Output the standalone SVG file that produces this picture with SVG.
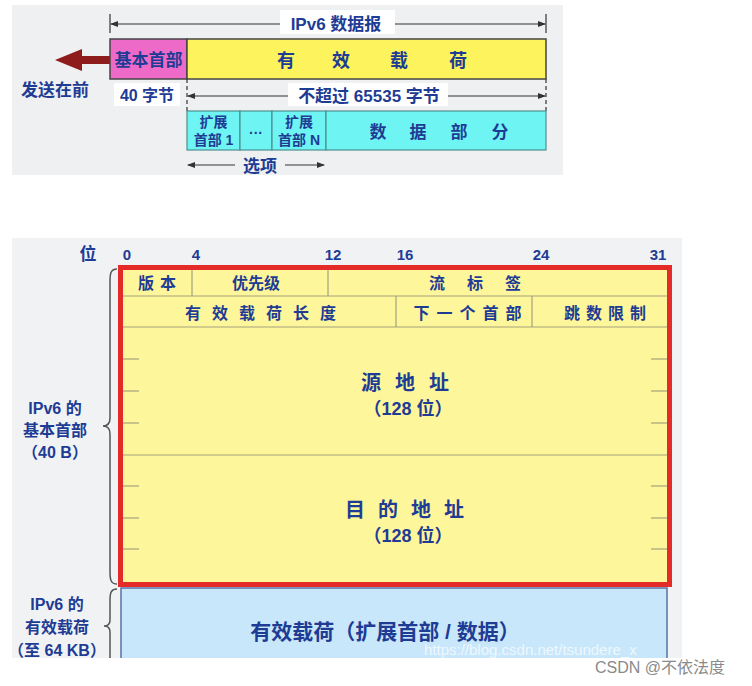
<svg xmlns="http://www.w3.org/2000/svg" width="752" height="686" viewBox="0 0 752 686">
<defs>
<style>
.t{font-family:"Liberation Sans","Noto Sans CJK SC",sans-serif;font-weight:bold;fill:#1e3c94;text-anchor:middle}
.s13{font-size:13px}.s14{font-size:14px}.s15{font-size:15px}.s16{font-size:16px}.s17{font-size:17px}.s18{font-size:18px}.s20{font-size:20px}.s21{font-size:21px}
.dim{stroke:#333;stroke-width:1.2;fill:none}
.grid{stroke:#a3a27c;stroke-width:1.2;fill:none}
.brace{stroke:#555;stroke-width:1.5;fill:none}
</style>
<marker id="ah" markerWidth="8" markerHeight="6" refX="7" refY="3" orient="auto-start-reverse" markerUnits="userSpaceOnUse">
<path d="M0,0 L8,3 L0,6 z" fill="#333"/>
</marker>
</defs>
<rect width="752" height="686" fill="#ffffff"/>
<!-- top panel -->
<rect x="12" y="5" width="551" height="170" fill="#eff0f2"/>
<g id="connectors">
<line class="dim" x1="110" y1="14" x2="110" y2="33"/>
<line class="dim" x1="546" y1="14" x2="546" y2="33"/>
<line class="dim" x1="111" y1="24" x2="545" y2="24" marker-start="url(#ah)" marker-end="url(#ah)"/>
<line class="dim" x1="187" y1="79" x2="187" y2="111" stroke-dasharray="4,3"/>
<line class="dim" x1="546" y1="79" x2="546" y2="111" stroke-dasharray="4,3"/>
<line class="dim" x1="188" y1="96" x2="545" y2="96" marker-start="url(#ah)" marker-end="url(#ah)"/>
<line class="dim" x1="235" y1="165" x2="188" y2="165" marker-end="url(#ah)"/>
<line class="dim" x1="285" y1="165" x2="324" y2="165" marker-end="url(#ah)"/>
<polygon points="55,60 82,49 82,56 110,56 110,64 82,64 82,71" fill="#8e1c1c"/>
</g>
<g id="lbl-datagram">
<rect x="280" y="10" width="115" height="24" fill="#ffffff"/>
<text class="t s17" x="336" y="30">IPv6 数据报</text>
</g>
<g id="base-header">
<rect x="110" y="39" width="77" height="40" fill="#ee6ac8" stroke="#444" stroke-width="1.5"/>
<text class="t s17" x="148.5" y="66">基本首部</text>
</g>
<g id="payload">
<rect x="187" y="39" width="359" height="40" fill="#fdf35c" stroke="#444" stroke-width="1.5"/>
<text class="t s18" x="286" y="67">有</text>
<text class="t s18" x="341" y="67">效</text>
<text class="t s18" x="399" y="67">载</text>
<text class="t s18" x="458" y="67">荷</text>
</g>
<g id="lbl-send">
<text class="t s17" x="55" y="96">发送在前</text>
</g>
<g id="lbl-40">
<rect x="114" y="83" width="66" height="23" fill="#ffffff"/>
<text class="t s16" x="147" y="101">40 字节</text>
</g>
<g id="lbl-65535">
<rect x="288" y="83" width="160" height="23" fill="#ffffff"/>
<text class="t s17" x="369" y="102">不超过 65535 字节</text>
</g>
<g id="ext1">
<rect x="187" y="111" width="53" height="39" fill="#6ff4f4" stroke="#4b8f8f" stroke-width="1.2"/>
<text class="t s14" x="213.5" y="127">扩展</text>
<text class="t s14" x="213.5" y="145">首部 1</text>
</g>
<g id="ext-dots">
<rect x="240" y="111" width="32" height="39" fill="#6ff4f4" stroke="#4b8f8f" stroke-width="1.2"/>
<text class="t s14" x="256" y="138">···</text>
</g>
<g id="extN">
<rect x="272" y="111" width="54" height="39" fill="#6ff4f4" stroke="#4b8f8f" stroke-width="1.2"/>
<text class="t s14" x="299" y="127">扩展</text>
<text class="t s14" x="299" y="145">首部 N</text>
</g>
<g id="data-part">
<rect x="326" y="111" width="220" height="39" fill="#6ff4f4" stroke="#4b8f8f" stroke-width="1.2"/>
<text class="t s17" x="378" y="138">数</text>
<text class="t s17" x="418" y="138">据</text>
<text class="t s17" x="459" y="138">部</text>
<text class="t s17" x="500" y="138">分</text>
</g>
<g id="lbl-options">
<text class="t s17" x="260" y="172">选项</text>
</g>
<!-- bottom panel -->
<rect x="12" y="238" width="670" height="420" fill="#f1f2f4"/>
<g id="bit-scale">
<text class="t s17" x="88" y="260">位</text>
<text class="t s15" x="127" y="260">0</text>
<text class="t s15" x="196" y="260">4</text>
<text class="t s15" x="333" y="260">12</text>
<text class="t s15" x="405" y="260">16</text>
<text class="t s15" x="541" y="260">24</text>
<text class="t s15" x="658" y="260">31</text>
</g>
<g id="ipv6-header">
<rect x="120.5" y="267.5" width="549" height="317" fill="#fef69a"/>
<line class="grid" x1="123" y1="296" x2="667" y2="296"/>
<line class="grid" x1="123" y1="327" x2="667" y2="327"/>
<line class="grid" x1="123" y1="455" x2="667" y2="455"/>
<line class="grid" x1="192" y1="270" x2="192" y2="296"/>
<line class="grid" x1="328" y1="270" x2="328" y2="296"/>
<line class="grid" x1="396" y1="296" x2="396" y2="327"/>
<line class="grid" x1="532" y1="296" x2="532" y2="327"/>
<g class="grid">
<line x1="123" y1="359" x2="139" y2="359"/><line x1="123" y1="391" x2="139" y2="391"/><line x1="123" y1="423" x2="139" y2="423"/>
<line x1="123" y1="486" x2="139" y2="486"/><line x1="123" y1="518" x2="139" y2="518"/><line x1="123" y1="549" x2="139" y2="549"/>
<line x1="651" y1="359" x2="667" y2="359"/><line x1="651" y1="391" x2="667" y2="391"/><line x1="651" y1="423" x2="667" y2="423"/>
<line x1="651" y1="486" x2="667" y2="486"/><line x1="651" y1="518" x2="667" y2="518"/><line x1="651" y1="549" x2="667" y2="549"/>
</g>
<rect x="120.5" y="267.5" width="549" height="317" fill="none" stroke="#e42b27" stroke-width="5"/>
<text class="t s16" x="160" y="289" letter-spacing="6">版本</text>
<text class="t s16" x="256" y="289">优先级</text>
<text class="t s16" x="486" y="289" letter-spacing="22">流标签</text>
<text class="t s16" x="266" y="319" letter-spacing="11">有效载荷长度</text>
<text class="t s16" x="471" y="319" letter-spacing="7">下一个首部</text>
<text class="t s16" x="608" y="319" letter-spacing="6">跳数限制</text>
<text class="t s20" x="412" y="390" letter-spacing="14">源地址</text>
<text class="t s18" x="408" y="415">（128 位）</text>
<text class="t s20" x="411" y="517" letter-spacing="13">目的地址</text>
<text class="t s18" x="408" y="542">（128 位）</text>
</g>
<rect x="12" y="658" width="740" height="28" fill="#ffffff"/>
<g id="payload-box">
<rect x="121" y="588" width="546" height="70" fill="#c9e7fb"/>
<path d="M121,658 L121,588 L667,588 L667,658" fill="none" stroke="#5a72a8" stroke-width="1.5"/>
<text class="t s21" x="385" y="639">有效载荷（扩展首部 / 数据）</text>
</g>
<g id="brace-header">
<path class="brace" d="M117,269 C111,269 110,273 110,281 L110,418 C110,423 108,426 103,426 C108,426 110,429 110,434 L110,572 C110,580 111,584 117,584"/>
<text class="t s16" x="55" y="414">IPv6 的</text>
<text class="t s16" x="55" y="436">基本首部</text>
<text class="t s16" x="55" y="458">（40 B）</text>
</g>
<g id="brace-payload">
<path class="brace" d="M117,589 C111,589 110,593 110,600 L110,620 C110,624 108,626 104,626 C108,626 110,628 110,632 L110,658"/>
<text class="t s16" x="57" y="610">IPv6 的</text>
<text class="t s16" x="57" y="633">有效载荷</text>
<text class="t s16" x="57" y="656">（至 64 KB）</text>
</g>
<text x="424" y="655" font-family="Liberation Sans, sans-serif" font-size="15" fill="#ffffff" fill-opacity="0.7">https://blog.csdn.net/tsundere_x</text>
<text x="660" y="673" font-family="Liberation Sans, 'Noto Sans CJK SC', sans-serif" font-size="16" fill="#8a8a8a" text-anchor="middle">CSDN @不依法度</text>
</svg>
